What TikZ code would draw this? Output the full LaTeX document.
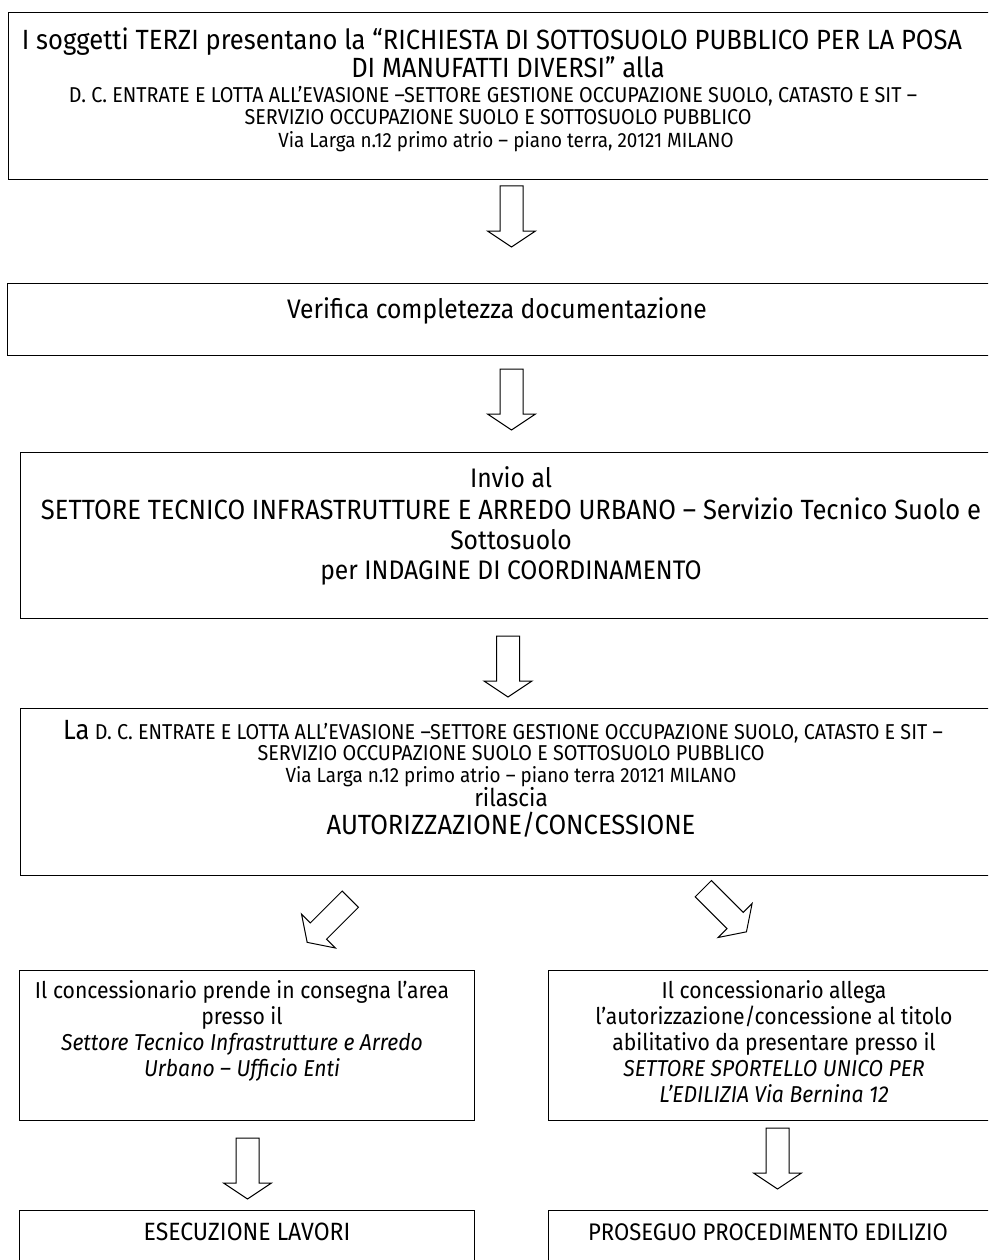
\documentclass[tikz,border=0pt]{standalone}
\usepackage{fontspec}
\setmainfont{Fira Sans}[FakeStretch=0.92]
\begin{document}
\begin{tikzpicture}[x=1pt,y=-1pt,
  box/.style={draw=black, line width=1.3pt, anchor=north west, inner sep=0pt, minimum width=#1},
  ln/.style={anchor=base, inner sep=0pt, text=black},
  big/.style={ln, font=\fontsize{27.8}{32}\selectfont},
  sml/.style={ln, font=\fontsize{21.5}{25}\selectfont},
  mid/.style={ln, font=\fontsize{26.8}{31}\selectfont},
  low/.style={ln, font=\fontsize{23}{27}\selectfont},
  blkarrow/.pic={\draw[line width=1pt, fill=white, line join=miter]
     (-11.5,0) -- (11.5,0) -- (11.5,45) -- (24,45) -- (0,61) -- (-24,45) -- (-11.5,45) -- cycle;}
]
\useasboundingbox (0,0) rectangle (988,1260);
\clip (0,0) rectangle (988,1260);
% boxes
\node[box=1000pt, minimum height=167pt] (b1) at (8,12) {};
\node[box=1000pt, minimum height=72pt] (b2) at (7,283) {};
\node[box=1000pt, minimum height=166pt] (b3) at (20,452) {};
\node[box=1000pt, minimum height=167pt] (b4) at (20,708) {};
\node[box=455pt, minimum height=150pt] (b5) at (19,970) {};
\node[box=460pt, minimum height=150pt] (b6) at (548,970) {};
\node[box=455pt, minimum height=80pt] (b7) at (19,1210) {};
\node[box=460pt, minimum height=80pt] (b8) at (548,1210) {};
% box 1 text
\node[big] (t1a) at (492,50) {I soggetti TERZI presentano la “RICHIESTA DI SOTTOSUOLO PUBBLICO PER LA POSA};
\node[big] (t1b) at (508,78) {DI MANUFATTI DIVERSI” alla};
\node[sml] (t1c) at (493,103) {D. C. ENTRATE E LOTTA ALL’EVASIONE –SETTORE GESTIONE OCCUPAZIONE SUOLO, CATASTO E SIT –};
\node[sml] (t1d) at (498,125) {SERVIZIO OCCUPAZIONE SUOLO E SOTTOSUOLO PUBBLICO};
\node[sml, font=\fontsize{20.5}{24}\selectfont] (t1e) at (506,148) {Via Larga n.12 primo atrio – piano terra, 20121 MILANO};
% box 2 text
\node[mid] (t2) at (497,318) {Verifica completezza documentazione};
% box 3 text
\node[mid] (t3a) at (511,487) {Invio al};
\node[big] (t3b) at (511,519) {SETTORE TECNICO INFRASTRUTTURE E ARREDO URBANO – Servizio Tecnico Suolo e};
\node[mid] (t3c) at (511,549) {Sottosuolo};
\node[mid] (t3d) at (511,579) {per INDAGINE DI COORDINAMENTO};
% box 4 text
\node[sml] (t4a) at (503,739) {{\fontsize{27.8}{32}\selectfont La} D. C. ENTRATE E LOTTA ALL’EVASIONE –SETTORE GESTIONE OCCUPAZIONE SUOLO, CATASTO E SIT –};
\node[sml] (t4b) at (511,760) {SERVIZIO OCCUPAZIONE SUOLO E SOTTOSUOLO PUBBLICO};
\node[sml, font=\fontsize{20.5}{24}\selectfont] (t4c) at (511,782) {Via Larga n.12 primo atrio – piano terra 20121 MILANO};
\node[low, font=\fontsize{24.5}{28}\selectfont] (t4d) at (511,806) {rilascia};
\node[big] (t4e) at (511,834) {AUTORIZZAZIONE/CONCESSIONE};
% box 5 text
\node[low] (t5a) at (242,998) {Il concessionario prende in consegna l’area};
\node[low] (t5b) at (242,1024) {presso il};
\node[low] (t5c) at (242,1050) {\itshape Settore Tecnico Infrastrutture e Arredo};
\node[low] (t5d) at (242,1076) {\itshape Urbano – Ufficio Enti};
% box 6 text
\node[low] (t6a) at (774,998) {Il concessionario allega};
\node[low] (t6b) at (774,1024) {l’autorizzazione/concessione al titolo};
\node[low] (t6c) at (774,1050) {abilitativo da presentare presso il};
\node[low] (t6d) at (774,1076) {\itshape SETTORE SPORTELLO UNICO PER};
\node[low] (t6e) at (774,1102) {\itshape L’EDILIZIA Via Bernina 12};
% bottom texts
\node[low, font=\fontsize{25}{29}\selectfont] (t7) at (247,1240) {ESECUZIONE LAVORI};
\node[low, font=\fontsize{24}{28}\selectfont] (t8) at (768,1240) {PROSEGUO PROCEDIMENTO EDILIZIO};
% block arrows
\pic at (511.5,186) {blkarrow};
\pic at (511.5,369) {blkarrow};
\pic at (508,636) {blkarrow};
\pic[rotate=-45] at (350.3,899.2) {blkarrow};
\pic[rotate=45] at (703.3,888.7) {blkarrow};
\pic at (247.5,1138) {blkarrow};
\pic at (777.5,1128) {blkarrow};
\end{tikzpicture}
\end{document}
